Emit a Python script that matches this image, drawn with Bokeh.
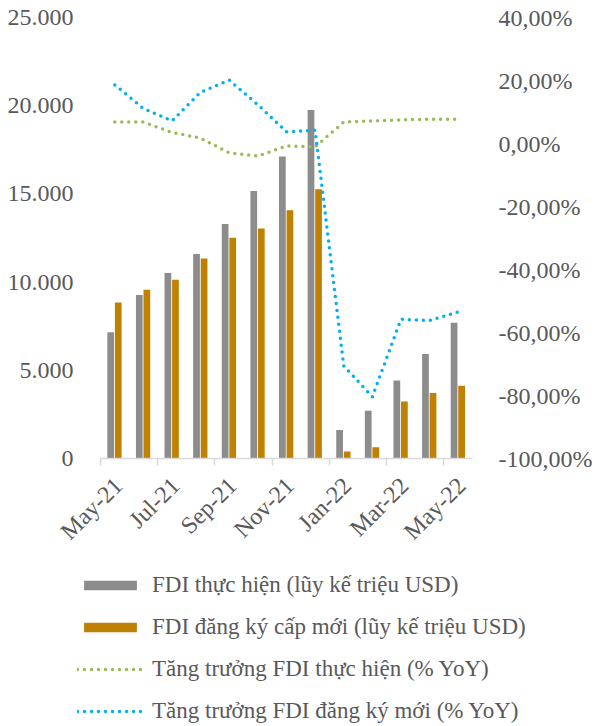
from bokeh.plotting import figure
from bokeh.models import (Range1d, LinearAxis, FixedTicker, Legend, LegendItem)
from bokeh.layouts import column
from bokeh.embed import file_html
from bokeh.resources import INLINE
import math

months = ["May-21", "Jun-21", "Jul-21", "Aug-21", "Sep-21", "Oct-21", "Nov-21",
          "Dec-21", "Jan-22", "Feb-22", "Mar-22", "Apr-22", "May-22"]
fdi_thuc_hien = [7150, 9270, 10520, 11590, 13290, 15160, 17120, 19760, 1620, 2700, 4420, 5930, 7700]
fdi_dang_ky = [8850, 9570, 10140, 11340, 12510, 13040, 14080, 15270, 400, 640, 3230, 3720, 4130]
tang_truong_th = [6.8, 6.8, 3.5, 1.7, -3.0, -4.0, -0.8, -1.1, 6.8, 7.2, 7.5, 7.7, 7.7]
tang_truong_dk = [18.6, 11.1, 7.2, 16.3, 20.1, 12.3, 3.7, 4.2, -70.6, -80.4, -55.8, -56.2, -53.5]

left_ticks = [0, 5000, 10000, 15000, 20000, 25000]
left_labels = ["0", "5.000", "10.000", "15.000", "20.000", "25.000"]
right_ticks = [-100, -80, -60, -40, -20, 0, 20, 40]
right_labels = ["-100,00%", "-80,00%", "-60,00%", "-40,00%", "-20,00%", "0,00%", "20,00%", "40,00%"]
x_label_idx = [0, 2, 4, 6, 8, 10, 12]

legend_labels = ["FDI thực hiện (lũy kế triệu USD)",
                 "FDI đăng ký cấp mới (lũy kế triệu USD)",
                 "Tăng trưởng FDI thực hiện (% YoY)",
                 "Tăng trưởng FDI đăng ký mới (% YoY)"]

FONT = "Liberation Serif"
FS = "24px"
TXT = "#595959"
GRAY = "#8C8C8C"
ORANGE = "#C08000"
GREEN = "#9BBB59"
BLUE = "#00B0F0"
AXIS = "#D9D9D9"

n = len(months)
xc = [i + 0.5 for i in range(n)]
x_gray = [i + 0.356 for i in range(n)]
x_orange = [i + 0.62 for i in range(n)]


def draw_series(fig):
    a = fig.vbar(x=x_gray, top=fdi_thuc_hien, width=0.235, bottom=0,
                 fill_color=GRAY, line_color=None)
    b = fig.vbar(x=x_orange, top=fdi_dang_ky, width=0.235, bottom=0,
                 fill_color=ORANGE, line_color=None)
    c = fig.line(x=xc, y=tang_truong_th, y_range_name="pct", line_color=GREEN,
                 line_width=3.5, line_dash="0 7", line_cap="round")
    d = fig.line(x=xc, y=tang_truong_dk, y_range_name="pct", line_color=BLUE,
                 line_width=3.5, line_dash="0 7", line_cap="round")
    return a, b, c, d


p = figure(width=595, height=570, output_backend="svg", toolbar_location=None,
           x_range=Range1d(0, n), y_range=Range1d(0, 25000),
           min_border_left=100, min_border_right=112, min_border_top=17,
           min_border_bottom=112, outline_line_color=None, x_axis_location=None,
           y_axis_location=None, frame_align=False)
p.grid.visible = False
p.extra_y_ranges = {"pct": Range1d(-100, 40)}

yl = LinearAxis(ticker=FixedTicker(ticks=left_ticks),
                major_label_overrides={t: l for t, l in zip(left_ticks, left_labels)})
yr = LinearAxis(y_range_name="pct", ticker=FixedTicker(ticks=right_ticks),
                major_label_overrides={t: l for t, l in zip(right_ticks, right_labels)})
for ax, so in ((yl, 21), (yr, 20)):
    ax.axis_line_color = None
    ax.major_tick_line_color = None
    ax.minor_tick_line_color = None
    ax.major_label_standoff = so
    ax.major_label_text_font = FONT
    ax.major_label_text_font_size = FS
    ax.major_label_text_color = TXT
p.add_layout(yl, "left")
p.add_layout(yr, "right")

xt = [xc[i] + 0.12 for i in x_label_idx]
xa = LinearAxis(ticker=FixedTicker(ticks=xt, minor_ticks=[float(i) for i in x_label_idx]),
                major_label_overrides={xc[i] + 0.12: months[i] for i in x_label_idx})
xa.axis_line_color = AXIS
xa.axis_line_width = 1.5
xa.major_tick_line_color = None
xa.minor_tick_line_color = AXIS
xa.minor_tick_line_width = 1.5
xa.minor_tick_out = 7
xa.minor_tick_in = 0
xa.major_label_orientation = math.pi / 4
xa.major_label_standoff = 16
xa.major_label_text_font = FONT
xa.major_label_text_font_size = FS
xa.major_label_text_color = TXT
p.add_layout(xa, "below")

draw_series(p)

# legend panel: same series, ranges chosen so only the legend shows
lg = figure(width=595, height=156, output_backend="svg", toolbar_location=None,
            x_range=Range1d(-20, -19), y_range=Range1d(-2, -1),
            min_border=0, min_border_left=0, min_border_right=0,
            min_border_top=0, min_border_bottom=0,
            outline_line_color=None, x_axis_location=None,
            y_axis_location=None, frame_align=False)
lg.grid.visible = False
lg.extra_y_ranges = {"pct": Range1d(-300, -299)}
l1, l2, l3, l4 = draw_series(lg)
legend = Legend(items=[LegendItem(label=legend_labels[0], renderers=[l1]),
                       LegendItem(label=legend_labels[1], renderers=[l2]),
                       LegendItem(label=legend_labels[2], renderers=[l3]),
                       LegendItem(label=legend_labels[3], renderers=[l4])],
                location=(77, 0), orientation="vertical",
                glyph_width=66, glyph_height=12, label_height=30,
                spacing=12, label_standoff=9, padding=0, margin=0,
                label_text_font=FONT, label_text_font_size="23px",
                label_text_color=TXT, background_fill_color=None,
                border_line_color=None)
lg.add_layout(legend, "center")

layout = column(p, lg, spacing=0)
open("out.html", "w").write(file_html(layout, INLINE))
